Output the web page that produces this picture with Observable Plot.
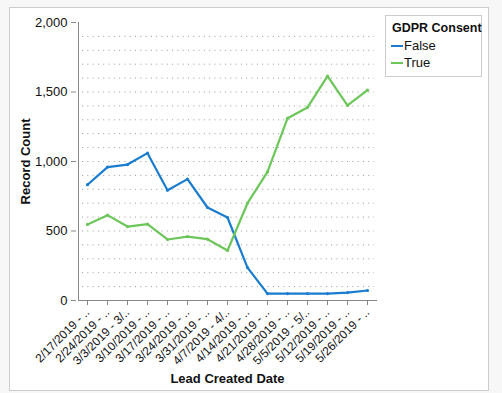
<!DOCTYPE html>
<html><head><meta charset="utf-8">
<script src="https://cdn.jsdelivr.net/npm/d3@7"></script>
<script src="https://cdn.jsdelivr.net/npm/@observablehq/plot@0.6"></script>
<style>
html,body{margin:0;padding:0;background:#f7f7f7;font-family:"Liberation Sans",Arial,sans-serif;}
#wrap{position:relative;width:502px;height:393px;overflow:hidden;}
#box{position:absolute;left:9px;top:7px;width:478px;height:382px;border:1px solid #ccc;background:#fff;}
#chart{position:absolute;left:0;top:0;}
#legend{position:absolute;left:385px;top:15px;width:95px;height:60px;border:1px solid #ccc;background:#fff;font-size:12px;color:#111;white-space:nowrap;}
#legend .t{position:absolute;left:6px;top:5px;font-weight:bold;font-size:12.5px;}
#legend .e{position:absolute;left:5px;font-size:13px;}
#legend .sw{display:inline-block;width:12px;height:2px;vertical-align:middle;margin-right:1px;position:relative;top:-1px;}
svg [aria-label="y-axis label"] text, svg [aria-label="x-axis label"] text{font-weight:bold;font-size:13px;fill:#111;}
svg [aria-label="y-axis tick label"] text, svg [aria-label="x-axis tick label"] text{fill:#111;}
</style></head>
<body><div id="wrap"><div id="box"></div><div id="chart"></div>
<div id="legend"><div class="t">GDPR Consent</div>
<div class="e" style="top:22px"><span class="sw" style="background:#1a7ccf"></span>False</div>
<div class="e" style="top:39px"><span class="sw" style="background:#6cc65a"></span>True</div></div></div>
<script>
const weeks = ["2/17/2019 - ..","2/24/2019 - ..","3/3/2019 - 3/..","3/10/2019 - ..","3/17/2019 - ..","3/24/2019 - ..","3/31/2019 - ..","4/7/2019 - 4/..","4/14/2019 - ..","4/21/2019 - ..","4/28/2019 - ..","5/5/2019 - 5/..","5/12/2019 - ..","5/19/2019 - ..","5/26/2019 - .."];
const falseCounts = [833, 960, 978, 1060, 793, 873, 669, 597, 237, 50, 50, 50, 50, 57, 72];
const trueCounts = [547, 614, 532, 549, 439, 460, 441, 360, 700, 925, 1311, 1389, 1614, 1403, 1513];
const seriesNames = ["False","True"];
const seriesColors = ["#1a7ccf","#6cc65a"];
const gridValues = d3.range(100, 2000, 100);
const yTicks = [0, 500, 1000, 1500, 2000];

const data = [];
weeks.forEach((w,i)=>{
  data.push({week:w, consent:"False", count:falseCounts[i]});
  data.push({week:w, consent:"True", count:trueCounts[i]});
});

const chart = Plot.plot({
  width: 502, height: 393,
  marginLeft: 76, marginRight: 124, marginTop: 22, marginBottom: 93,
  style: {fontFamily: '"Liberation Sans", Arial, sans-serif', fontSize: "12px", color: "#111", background: "transparent", overflow: "visible"},
  x: {type: "point", domain: weeks, padding: 0.47},
  y: {domain: [0, 2000]},
  color: {domain: seriesNames, range: seriesColors},
  marks: [
    Plot.ruleY(gridValues, {y: d => d, x1: () => weeks[0], x2: () => weeks[weeks.length-1], stroke: "#999", strokeDasharray: "1,4.3", strokeWidth: 1, insetLeft: -5, insetRight: -7}),
    Plot.axisY({ticks: yTicks, tickFormat: d3.format(","), tickSize: 5, tickPadding: 4, fontSize: 13, stroke: "#888",
      label: "Record Count", labelAnchor: "center", labelArrow: "none", labelOffset: 56}),
    Plot.axisX({tickRotate: -45, tickSize: 5, tickPadding: 5, fontSize: 12, stroke: "#888",
      label: "Lead Created Date", labelAnchor: "center", labelArrow: "none", labelOffset: 82}),
    Plot.ruleX([0], {x: () => weeks[0], y1: 0, y2: 2000, stroke: "#888", dx: -9}),
    Plot.ruleY([0], {stroke: "#888", x1: () => weeks[0], x2: () => weeks[weeks.length-1], insetLeft: -9, insetRight: -10}),
    Plot.line(data, {x: "week", y: "count", stroke: "consent", strokeWidth: 2.2}),
    Plot.dot(data, {x: "week", y: "count", fill: "consent", r: 1.6})
  ]
});
document.getElementById("chart").appendChild(chart);
</script></body></html>
